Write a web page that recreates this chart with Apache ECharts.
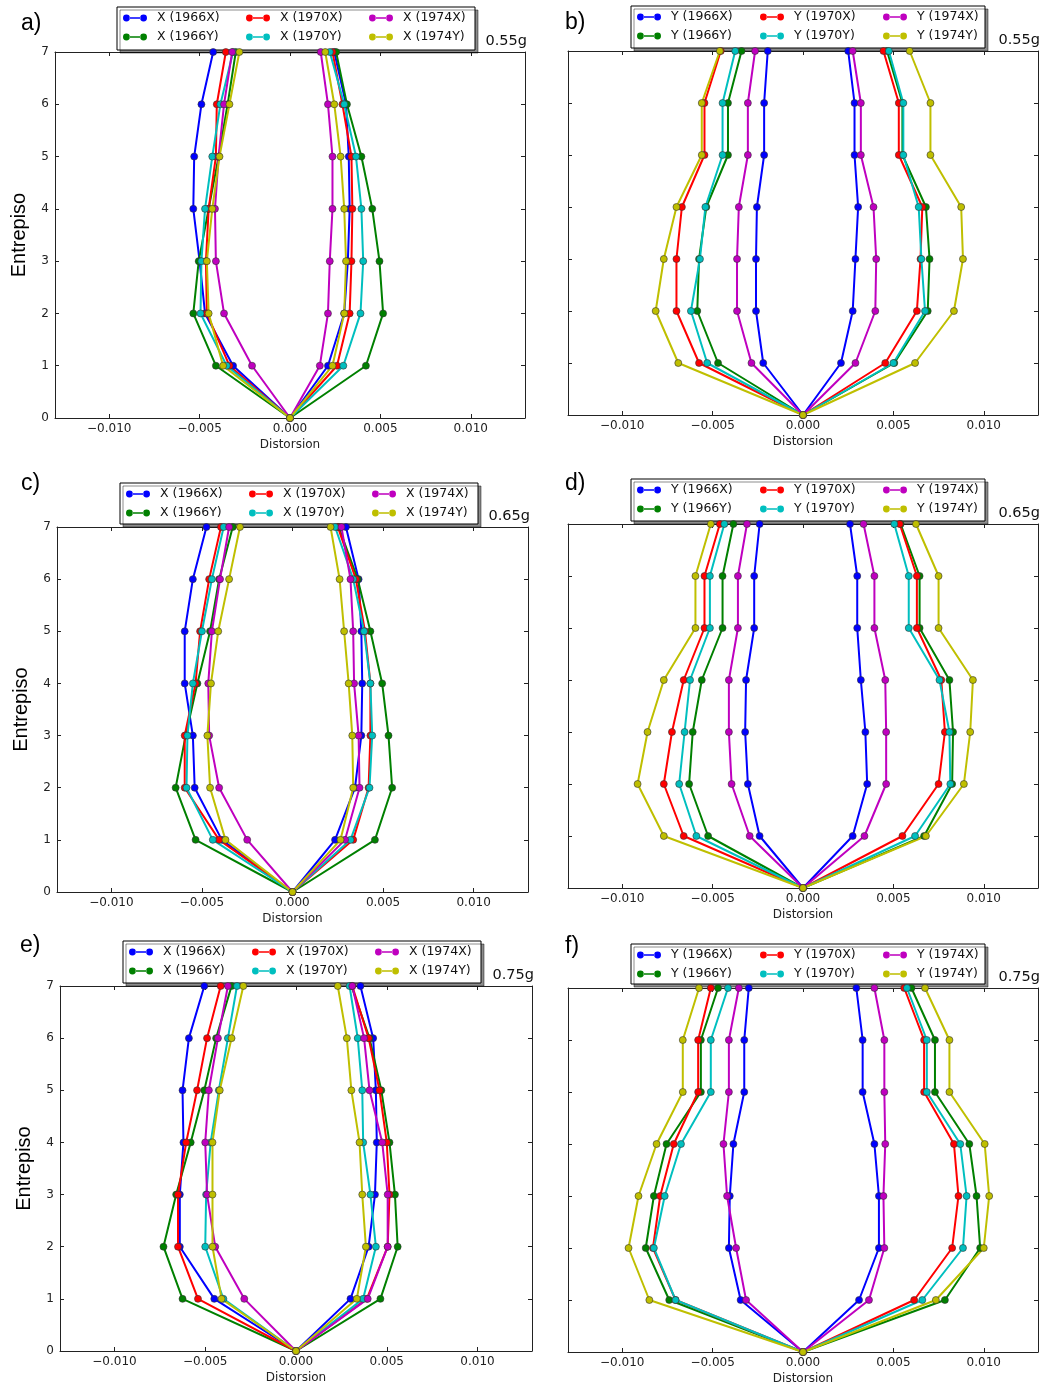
<!DOCTYPE html>
<html>
<head>
<meta charset="utf-8">
<script src="https://cdn.jsdelivr.net/npm/echarts@6/dist/echarts.min.js"></script>
<style>
  html, body { margin: 0; padding: 0; background: #ffffff; }
  #chart { width: 1045px; height: 1389px; }
</style>
</head>
<body>
<div id="chart"></div>
<script>
// ---- Storey drift profiles (Distorsion per Entrepiso) ----
const storeys = [1, 2, 3, 4, 5, 6, 7];
const baseStorey = 0;
const baseDrift = 0;
const groupKeys = ['1966X', '1966Y', '1970X', '1970Y', '1974X', '1974Y'];
const directions = ['X', 'Y', 'X', 'Y', 'X', 'Y'];
const panelLetters = ['a)', 'b)', 'c)', 'd)', 'e)', 'f)'];
const panelPGA = ['0.55g', '0.55g', '0.65g', '0.65g', '0.75g', '0.75g'];
const xTickValues = [-0.010, -0.005, 0, 0.005, 0.010];
const xTickLabels = ['\u22120.010', '\u22120.005', '0.000', '0.005', '0.010'];
const yTickValues = [0, 1, 2, 3, 4, 5, 6, 7];
const yTickLabels = ['0', '1', '2', '3', '4', '5', '6', '7'];

// Rows follow groupKeys; columns are storeys 1..7.
// a) X direction, 0.55g
const aLeft = [
  [-0.00315, -0.0047, -0.0050, -0.00535, -0.0053, -0.0049, -0.00425],
  [-0.0041, -0.00535, -0.00505, -0.0045, -0.00395, -0.00345, -0.0030],
  [-0.00335, -0.0046, -0.00465, -0.0045, -0.0041, -0.00405, -0.00355],
  [-0.0035, -0.00495, -0.0049, -0.0047, -0.0043, -0.00385, -0.00315],
  [-0.0021, -0.00365, -0.0041, -0.00415, -0.00395, -0.00365, -0.0032],
  [-0.0037, -0.0045, -0.0046, -0.0043, -0.0039, -0.00335, -0.0028]
];
const aRight = [
  [0.0021, 0.0030, 0.0032, 0.0033, 0.00325, 0.0031, 0.00245],
  [0.0042, 0.00515, 0.00495, 0.00455, 0.00395, 0.00315, 0.00255],
  [0.0026, 0.0033, 0.0034, 0.00345, 0.0034, 0.0029, 0.00235],
  [0.00295, 0.0039, 0.00405, 0.00395, 0.00365, 0.0030, 0.0022],
  [0.00165, 0.0021, 0.0022, 0.00235, 0.00235, 0.0021, 0.0017],
  [0.00235, 0.0030, 0.0031, 0.0030, 0.0028, 0.00245, 0.00195]
];
// b) Y direction, 0.55g
const bLeft = [
  [-0.0022, -0.0026, -0.0026, -0.00255, -0.00215, -0.00215, -0.00195],
  [-0.0047, -0.00585, -0.00575, -0.00535, -0.00415, -0.00415, -0.0034],
  [-0.00575, -0.0070, -0.0070, -0.0067, -0.00545, -0.00545, -0.00455],
  [-0.0053, -0.0062, -0.0057, -0.0054, -0.00445, -0.00445, -0.00375],
  [-0.00285, -0.00365, -0.00365, -0.00355, -0.00305, -0.00305, -0.00265],
  [-0.0069, -0.00815, -0.0077, -0.0070, -0.0056, -0.0056, -0.0046]
];
const bRight = [
  [0.0021, 0.00275, 0.0029, 0.00305, 0.00285, 0.00285, 0.0025],
  [0.00505, 0.0069, 0.0070, 0.0068, 0.0055, 0.0055, 0.00465],
  [0.00455, 0.0063, 0.0065, 0.0066, 0.0053, 0.0053, 0.00445],
  [0.0050, 0.00675, 0.00655, 0.0064, 0.00555, 0.00555, 0.00475],
  [0.0029, 0.0040, 0.00405, 0.0039, 0.0032, 0.0032, 0.00275],
  [0.0062, 0.00835, 0.00885, 0.00875, 0.00705, 0.00705, 0.0059]
];
// c) X direction, 0.65g
const cLeft = [
  [-0.0039, -0.0054, -0.0055, -0.00595, -0.00595, -0.0055, -0.00475],
  [-0.00535, -0.00645, -0.0059, -0.00525, -0.00455, -0.00405, -0.0033],
  [-0.00405, -0.00595, -0.00595, -0.00535, -0.0051, -0.0046, -0.00395],
  [-0.0044, -0.00585, -0.0058, -0.0055, -0.0050, -0.00445, -0.0038],
  [-0.0025, -0.00405, -0.0046, -0.00465, -0.00445, -0.0040, -0.0035],
  [-0.0037, -0.00455, -0.0047, -0.0045, -0.0041, -0.0035, -0.0029]
];
const cRight = [
  [0.00235, 0.00345, 0.0038, 0.00385, 0.0038, 0.00365, 0.00295],
  [0.00455, 0.0055, 0.0053, 0.00495, 0.0043, 0.0036, 0.00255],
  [0.00335, 0.0042, 0.0043, 0.0043, 0.0040, 0.0035, 0.0025],
  [0.0032, 0.00425, 0.0044, 0.0043, 0.00395, 0.00335, 0.00235],
  [0.0029, 0.0037, 0.00365, 0.0034, 0.00335, 0.0032, 0.0027],
  [0.00265, 0.00335, 0.0033, 0.0031, 0.00285, 0.0026, 0.0021]
];
// d) Y direction, 0.65g
const dLeft = [
  [-0.0024, -0.00305, -0.0032, -0.00315, -0.0027, -0.0027, -0.0024],
  [-0.00525, -0.0063, -0.0061, -0.0056, -0.00445, -0.00445, -0.00385],
  [-0.0066, -0.0077, -0.00725, -0.0066, -0.00545, -0.00545, -0.0046],
  [-0.0059, -0.00685, -0.00655, -0.00625, -0.00515, -0.00515, -0.00435],
  [-0.00295, -0.00395, -0.0041, -0.0041, -0.0036, -0.0036, -0.0031],
  [-0.0077, -0.00915, -0.0086, -0.0077, -0.00595, -0.00595, -0.0051]
];
const dRight = [
  [0.00275, 0.00355, 0.00345, 0.0032, 0.0030, 0.0030, 0.0026],
  [0.0067, 0.00825, 0.0083, 0.0081, 0.00645, 0.00645, 0.0054],
  [0.0055, 0.0075, 0.00785, 0.00765, 0.0063, 0.0063, 0.00535],
  [0.0062, 0.00815, 0.0081, 0.00755, 0.00585, 0.00585, 0.00505],
  [0.0034, 0.0046, 0.0046, 0.00455, 0.00395, 0.00395, 0.00335],
  [0.0068, 0.0089, 0.00925, 0.0094, 0.0075, 0.0075, 0.00625]
];
// e) X direction, 0.75g
const eLeft = [
  [-0.0045, -0.0064, -0.0064, -0.0062, -0.00625, -0.0059, -0.00505],
  [-0.00625, -0.0073, -0.0066, -0.0058, -0.00505, -0.0044, -0.00355],
  [-0.0054, -0.0065, -0.0065, -0.00605, -0.00545, -0.0049, -0.00415],
  [-0.0040, -0.0050, -0.00495, -0.0047, -0.00425, -0.00375, -0.00325],
  [-0.00285, -0.00445, -0.0049, -0.0050, -0.0048, -0.0043, -0.00375],
  [-0.0041, -0.0046, -0.0046, -0.0046, -0.0042, -0.00355, -0.0029]
];
const eRight = [
  [0.0030, 0.0040, 0.00435, 0.00445, 0.0044, 0.00425, 0.00355],
  [0.00465, 0.0056, 0.00545, 0.00515, 0.0047, 0.00405, 0.00305],
  [0.0039, 0.00505, 0.00515, 0.0050, 0.0046, 0.0040, 0.0031],
  [0.0037, 0.0044, 0.0041, 0.0037, 0.00365, 0.0034, 0.00295],
  [0.00395, 0.00505, 0.00505, 0.00475, 0.00405, 0.00375, 0.0031],
  [0.00335, 0.00385, 0.00365, 0.0035, 0.00305, 0.0028, 0.0023]
];
// f) Y direction, 0.75g
const fLeft = [
  [-0.00345, -0.0041, -0.00405, -0.00385, -0.00325, -0.00325, -0.0030],
  [-0.0074, -0.0087, -0.00825, -0.00755, -0.00565, -0.00565, -0.0047],
  [-0.00705, -0.0083, -0.0079, -0.00715, -0.0058, -0.0058, -0.0051],
  [-0.00705, -0.00825, -0.00765, -0.00675, -0.0051, -0.0051, -0.00415],
  [-0.00315, -0.0037, -0.0042, -0.0044, -0.0041, -0.0041, -0.00355],
  [-0.0085, -0.00965, -0.0091, -0.0081, -0.00665, -0.00665, -0.00575]
];
const fRight = [
  [0.0031, 0.0042, 0.0042, 0.00395, 0.0033, 0.0033, 0.00295],
  [0.00785, 0.0098, 0.0096, 0.0092, 0.0073, 0.0073, 0.0060],
  [0.00615, 0.00825, 0.0086, 0.00835, 0.0067, 0.0067, 0.0056],
  [0.0066, 0.00885, 0.00905, 0.0087, 0.00685, 0.00685, 0.00575],
  [0.00365, 0.0045, 0.00445, 0.00455, 0.0045, 0.0045, 0.00395],
  [0.00735, 0.0100, 0.0103, 0.01005, 0.0081, 0.0081, 0.00675]
];

// ---- Styling / layout ----
const lineColors = ['#0000ff', '#008000', '#ff0000', '#00bfbf', '#bf00bf', '#bfbf00'];
const legendOrder = [0, 2, 4, 1, 3, 5];
const mono = '"DejaVu Sans", "Bitstream Vera Sans", sans-serif';
const sans = '"Liberation Sans", Arial, sans-serif';
const legendIcon = 'path://M6.5,2.75H17.5V4.25H6.5Z' +
  'M0.1,3.5A3.4,3.4,0,1,0,6.9,3.5A3.4,3.4,0,1,0,0.1,3.5Z' +
  'M17.1,3.5A3.4,3.4,0,1,0,23.9,3.5A3.4,3.4,0,1,0,17.1,3.5Z';

const panels = [
  { left: aLeft, right: aRight, grid: { left: 55, top: 52, width: 470, height: 366 }, box: [117, 7, 358, 43], letterPos: [21, 24] },
  { left: bLeft, right: bRight, grid: { left: 568, top: 51, width: 470, height: 364 }, box: [631, 6, 354, 42], letterPos: [565, 23] },
  { left: cLeft, right: cRight, grid: { left: 57, top: 527, width: 471, height: 365 }, box: [120, 483, 358, 41], letterPos: [21, 484] },
  { left: dLeft, right: dRight, grid: { left: 568, top: 524, width: 470, height: 364 }, box: [631, 479, 354, 42], letterPos: [565, 484] },
  { left: eLeft, right: eRight, grid: { left: 60, top: 986, width: 472, height: 365 }, box: [123, 941, 358, 42], letterPos: [20, 946] },
  { left: fLeft, right: fRight, grid: { left: 568, top: 988, width: 470, height: 364 }, box: [631, 944, 354, 40], letterPos: [565, 947] }
];

function seriesName(p, k) { return directions[p] + ' (' + groupKeys[k] + ')'; }

// Walk down the negative envelope, through the base, and up the positive one.
function profile(neg, pos) {
  const pts = [];
  for (let i = storeys.length - 1; i >= 0; i--) pts.push([neg[i], storeys[i]]);
  pts.push([baseDrift, baseStorey]);
  for (let i = 0; i < storeys.length; i++) pts.push([pos[i], storeys[i]]);
  return pts;
}

function xLabel(v) {
  let best = 0;
  xTickValues.forEach((t, i) => { if (Math.abs(t - v) < Math.abs(xTickValues[best] - v)) best = i; });
  return xTickLabels[best];
}

const axisLineStyle = { show: true, onZero: false, lineStyle: { color: '#222', width: 1 } };
const tickStyle = { show: true, inside: true, length: 4, lineStyle: { color: '#222', width: 1 } };

const grids = [], xAxes = [], yAxes = [], series = [], legends = [], graphics = [];

panels.forEach((pn, p) => {
  grids.push(Object.assign({ containLabel: false, show: false }, pn.grid));
  const showY = (p % 2 === 0);
  // bottom / top x axes
  xAxes.push({
    type: 'value', gridIndex: p, position: 'bottom', min: -0.013, max: 0.013,
    axisLine: axisLineStyle, splitLine: { show: false },
    axisTick: Object.assign({ customValues: xTickValues }, tickStyle),
    axisLabel: { customValues: xTickValues, formatter: xLabel, margin: 5, fontFamily: mono, fontSize: 12, color: '#222' },
    name: 'Distorsion', nameLocation: 'middle', nameGap: 21,
    nameTextStyle: { fontFamily: mono, fontSize: 12, color: '#222' }
  });
  xAxes.push({
    type: 'value', gridIndex: p, position: 'top', min: -0.013, max: 0.013,
    axisLine: axisLineStyle, splitLine: { show: false },
    axisTick: Object.assign({ customValues: xTickValues }, tickStyle),
    axisLabel: { show: false }
  });
  // left / right y axes
  yAxes.push({
    type: 'value', gridIndex: p, position: 'left', min: 0, max: 7, interval: 1,
    axisLine: axisLineStyle, splitLine: { show: false }, axisTick: tickStyle,
    axisLabel: { show: showY, formatter: v => yTickLabels[yTickValues.indexOf(v)], margin: 6, fontFamily: mono, fontSize: 12, color: '#222' },
    name: showY ? 'Entrepiso' : '', nameLocation: 'middle', nameGap: 26,
    nameTextStyle: { fontFamily: sans, fontSize: 20, color: '#000' }
  });
  yAxes.push({
    type: 'value', gridIndex: p, position: 'right', min: 0, max: 7, interval: 1,
    axisLine: axisLineStyle, splitLine: { show: false }, axisTick: tickStyle,
    axisLabel: { show: false }
  });

  groupKeys.forEach((g, k) => {
    series.push({
      type: 'line', name: seriesName(p, k),
      xAxisIndex: 2 * p, yAxisIndex: 2 * p,
      data: profile(pn.left[k], pn.right[k]),
      symbol: 'circle', symbolSize: 7, showSymbol: true,
      lineStyle: { color: lineColors[k], width: 2 },
      itemStyle: { color: lineColors[k], borderColor: '#333', borderWidth: 0.6 },
      emphasis: { disabled: true }, silent: true, animation: false
    });
  });

  const [bx, by, bw, bh] = pn.box;
  legends.push({
    left: bx + 6, top: by + 4, width: 375, padding: 0, itemGap: 5,
    orient: 'horizontal', itemWidth: 24, itemHeight: 7, icon: legendIcon,
    selectedMode: false,
    data: legendOrder.map(k => seriesName(p, k)),
    itemStyle: { borderWidth: 0 },
    textStyle: { fontFamily: mono, fontSize: 12.5, color: '#111', width: 84, padding: [0, 0, 0, 5], lineHeight: 14 }
  });
  graphics.push({
    type: 'rect', z: 1, shape: { x: bx, y: by, width: bw, height: bh },
    style: { fill: '#ffffff', stroke: '#000', lineWidth: 1, shadowColor: 'rgba(0,0,0,0.45)', shadowOffsetX: 3, shadowOffsetY: 3, shadowBlur: 0 }
  });
  graphics.push({
    type: 'text', z: 5, x: pn.letterPos[0], y: pn.letterPos[1],
    style: { text: panelLetters[p], font: '23px ' + sans, fill: '#000', align: 'left', verticalAlign: 'middle' }
  });
  graphics.push({
    type: 'text', z: 5, x: pn.grid.left + pn.grid.width + 2, y: pn.grid.top - 11,
    style: { text: panelPGA[p], font: '14.5px ' + mono, fill: '#111', align: 'right', verticalAlign: 'middle' }
  });
});

const chart = echarts.init(document.getElementById('chart'), null, { renderer: 'canvas' });
chart.setOption({
  backgroundColor: '#ffffff',
  animation: false,
  grid: grids,
  xAxis: xAxes,
  yAxis: yAxes,
  legend: legends,
  graphic: { elements: graphics },
  series: series
});
</script>
</body>
</html>
